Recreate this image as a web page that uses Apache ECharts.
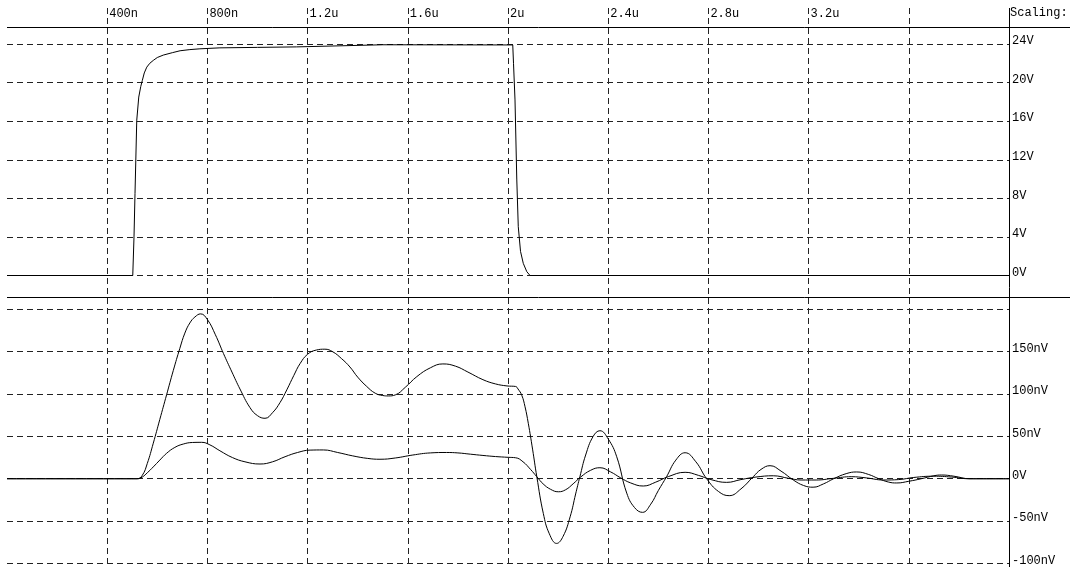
<!DOCTYPE html>
<html>
<head>
<meta charset="utf-8">
<script src="https://cdn.jsdelivr.net/npm/echarts@6/dist/echarts.min.js"></script>
<style>
  html, body { margin: 0; padding: 0; background: #fff; }
  #chart { width: 1070px; height: 567px; }
</style>
</head>
<body>
<div id="chart"></div>
<script>
// time axis ticks (ns) and their labels at the top
const xTickValues = [400, 800, 1200, 1600, 2000, 2400, 2800, 3200, 3600];
const xTickLabels = ['400n', '800n', '1.2u', '1.6u', '2u', '2.4u', '2.8u', '3.2u', ''];

// upper trace: pulse voltage (V) vs time (ns)
const pulseT = [0, 502, 507, 511, 518, 526, 534, 540, 548, 558, 570, 584, 600, 624, 660, 691, 730, 770, 850, 1000, 1155, 1160, 1500, 2019, 2022, 2028, 2035, 2041, 2050, 2061, 2075, 2088, 4000];
const pulseV = [0, 0, 4, 8.5, 16.1, 18.5, 19.6, 20.2, 21.0, 21.6, 22.0, 22.3, 22.6, 22.85, 23.1, 23.3, 23.42, 23.5, 23.6, 23.65, 23.7, 23.9, 23.92, 23.9, 22, 18.2, 10, 5.06, 2.5, 1.26, 0.4, 0, 0];

// lower traces (nV) vs time (ns)
const bigT = [0, 519, 540, 560, 584, 610, 637, 664, 690, 710, 730, 750, 773, 800, 832, 864, 898, 930, 970, 1000, 1030, 1060, 1090, 1117, 1145, 1170, 1200, 1235, 1269, 1300, 1335, 1369, 1400, 1436, 1470, 1500, 1522, 1550, 1590, 1636, 1690, 1740, 1790, 1840, 1900, 1950, 1996, 2030, 2040, 2055, 2068, 2081, 2098, 2115, 2141, 2165, 2194, 2220, 2248, 2270, 2287, 2310, 2340, 2367, 2400, 2434, 2474, 2505, 2537, 2570, 2600, 2633, 2670, 2707, 2750, 2793, 2840, 2883, 2930, 2979, 3010, 3046, 3090, 3139, 3180, 3218, 3260, 3300, 3350, 3392, 3440, 3480, 3520, 3552, 3600, 3650, 3700, 3731, 3780, 3844, 4000];
const bigV = [0, 0, 4, 18, 42, 70, 99, 128, 154, 172, 184, 191, 194.7, 188, 170, 148, 126, 106, 84, 74.5, 71.4, 78, 90, 105, 122, 136, 147, 152, 153, 150, 142, 132, 120, 109, 101, 98.3, 97.8, 99, 108, 120.6, 131, 135.6, 133, 126, 117, 112, 109.6, 109, 106, 98.6, 85, 65.5, 35, 2.4, -41, -65, -76.4, -68, -45, -18, 2.4, 28, 50, 56.7, 47, 26, -17, -34, -39.7, -30, -14, 2.4, 22, 30.7, 20, 0, -15, -20, -12, 2.4, 11, 15.4, 9, -1.5, -8, -10, -6, 0, 6, 8, 5, 0, -4, -5, -3, 0, 3.5, 4.4, 3, 0, 0];

const smallT = [0, 520, 540, 560, 584, 610, 637, 670, 704, 740, 777, 810, 850, 900, 950, 1010, 1060, 1110, 1160, 1210, 1263, 1320, 1380, 1440, 1489, 1550, 1620, 1690, 1755, 1800, 1850, 1900, 1950, 2000, 2030, 2060, 2090, 2115, 2140, 2170, 2201, 2230, 2260, 2290, 2330, 2367, 2410, 2450, 2490, 2540, 2590, 2640, 2707, 2760, 2810, 2873, 2930, 2990, 3059, 3120, 3170, 3230, 3300, 3370, 3430, 3500, 3560, 3620, 3700, 3770, 3840, 4000];
const smallV = [0, 0, 2, 7, 14, 22, 30, 37, 41, 42.8, 43, 40, 33, 25, 20, 17.4, 20, 26, 31, 33.8, 34, 31, 27, 24, 23, 24.5, 28, 30.5, 31, 30.5, 29, 27.5, 26.2, 25.3, 24.8, 20, 11, 2.4, -6, -12.5, -15.4, -13, -6, 2, 10, 13, 8, 1, -5, -8.6, -4, 2.5, 7.6, 4, -1, -4.3, -1, 2, 3.5, 0.5, -1.5, -1.5, 0.5, 2.4, 1, -1.5, -1, 1.5, 3, 2, 0, 0];

const FONT = 'Liberation Mono';
const dashed = { color: '#222', width: 1, type: [6, 4] };

function pairs(ts, vs) {
    return ts.map((t, i) => [t, vs[i]]);
}

// right-hand labels sit just above their grid line
const rightLabel = {
    margin: 3, verticalAlign: 'bottom', lineHeight: 6,
    fontFamily: FONT, fontSize: 12, color: '#000'
};

const chart = echarts.init(document.getElementById('chart'), null, { renderer: 'canvas' });
chart.setOption({
    animation: false,
    backgroundColor: '#fff',
    textStyle: { fontFamily: FONT, fontSize: 12, color: '#000' },
    grid: [
        { left: 7, right: 61, top: 44, height: 231.5 },
        { left: 7, right: 61, top: 309.4, height: 254 },
        { left: 107.2, width: 801.6, top: 8, bottom: 0 }
    ],
    xAxis: [
        { gridIndex: 0, type: 'value', min: 0, max: 4000, show: false, splitLine: { show: false } },
        { gridIndex: 1, type: 'value', min: 0, max: 4000, show: false, splitLine: { show: false } },
        {
            gridIndex: 2, type: 'value', position: 'top', min: 400, max: 3600, interval: 400,
            axisLine: { show: false }, axisTick: { show: false },
            splitLine: { show: true, lineStyle: dashed },
            axisLabel: {
                inside: true, margin: 6, align: 'left', verticalAlign: 'middle',
                padding: [0, 0, 0, 2], fontFamily: FONT, fontSize: 12, color: '#000',
                showMinLabel: true, showMaxLabel: true,
                formatter: v => {
                    const i = xTickValues.indexOf(v);
                    return i < 0 ? '' : xTickLabels[i];
                }
            }
        }
    ],
    yAxis: [
        {
            gridIndex: 0, type: 'value', position: 'right', min: 0, max: 24, interval: 4,
            axisLine: { show: false }, axisTick: { show: false },
            splitLine: { show: true, lineStyle: dashed },
            axisLabel: Object.assign({}, rightLabel, { formatter: v => v + 'V' })
        },
        {
            gridIndex: 1, type: 'value', position: 'right', min: -100, max: 200, interval: 50,
            axisLine: { show: false }, axisTick: { show: false },
            splitLine: { show: true, lineStyle: dashed },
            axisLabel: Object.assign({}, rightLabel, {
                showMaxLabel: false,
                formatter: v => v === 0 ? '0V' : (v === 200 ? '' : v + 'nV')
            })
        },
        { gridIndex: 2, type: 'value', show: false, splitLine: { show: false } }
    ],
    series: [
        {
            name: 'pulse', type: 'line', xAxisIndex: 0, yAxisIndex: 0,
            data: pairs(pulseT, pulseV), showSymbol: false,
            lineStyle: { color: '#000', width: 1 }
        },
        {
            name: 'big', type: 'line', xAxisIndex: 1, yAxisIndex: 1,
            data: pairs(bigT, bigV), showSymbol: false, smooth: 0.45,
            lineStyle: { color: '#000', width: 1 }
        },
        {
            name: 'small', type: 'line', xAxisIndex: 1, yAxisIndex: 1,
            data: pairs(smallT, smallV), showSymbol: false, smooth: 0.45,
            lineStyle: { color: '#000', width: 1 }
        }
    ],
    graphic: [
        { type: 'line', shape: { x1: 7, y1: 27.5, x2: 1070, y2: 27.5 }, style: { stroke: '#000', lineWidth: 1 } },
        { type: 'line', shape: { x1: 7, y1: 297.5, x2: 1070, y2: 297.5 }, style: { stroke: '#000', lineWidth: 1 } },
        { type: 'line', shape: { x1: 1009.5, y1: 8, x2: 1009.5, y2: 567 }, style: { stroke: '#000', lineWidth: 1 } },
        {
            type: 'text', left: 1010, top: 7,
            style: { text: 'Scaling:', font: '12px "Liberation Mono"', fill: '#000' }
        }
    ]
});
</script>
</body>
</html>
